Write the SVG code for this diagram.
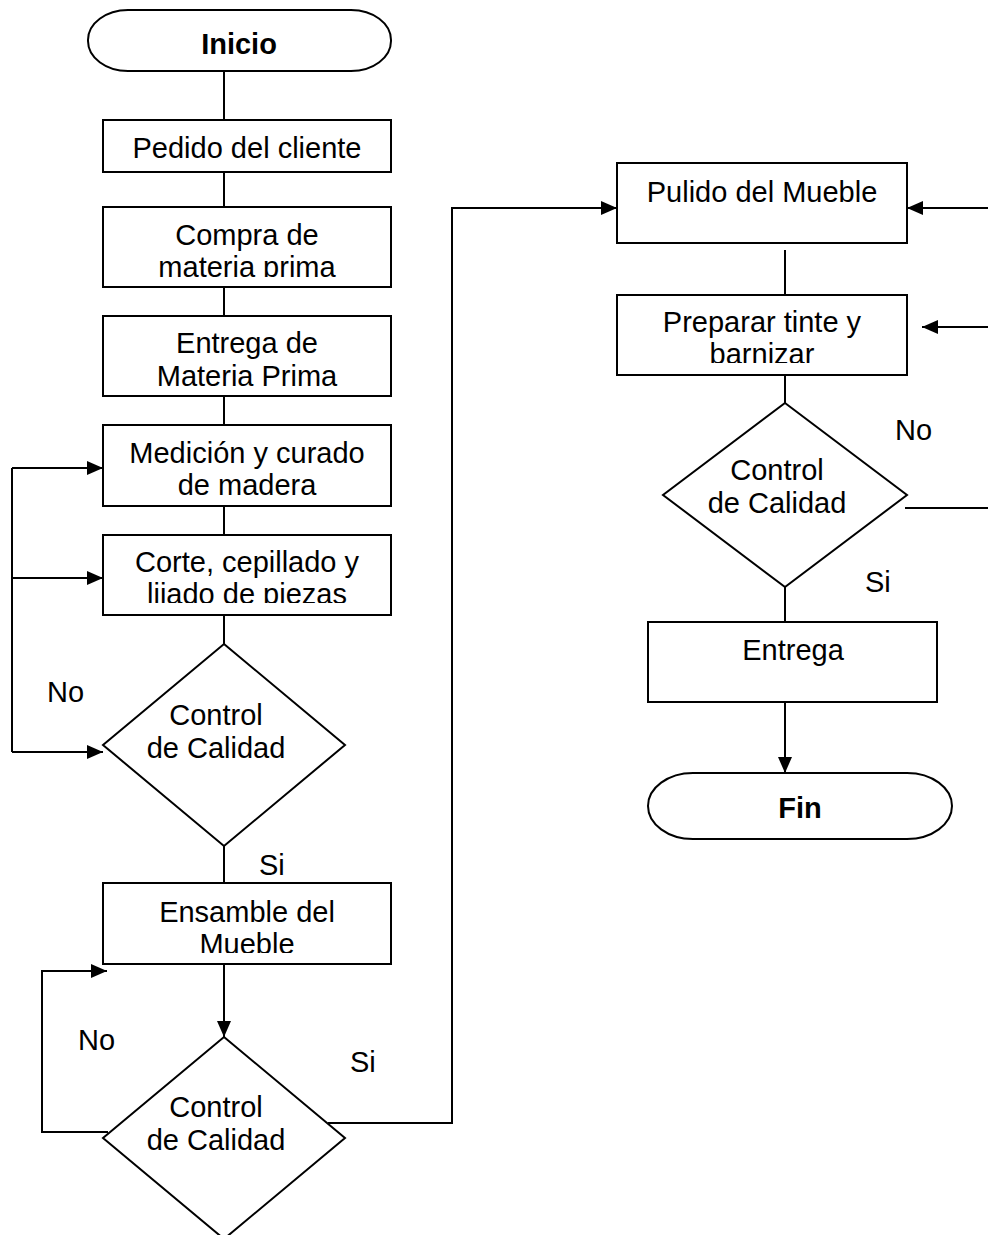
<svg xmlns="http://www.w3.org/2000/svg" width="988" height="1235" viewBox="0 0 988 1235">
<style>
.s{fill:#fff;stroke:#000;stroke-width:2}
.c{fill:none;stroke:#000;stroke-width:2}
text{font-family:"Liberation Sans",Arial,sans-serif;font-size:29px;fill:#000}
.m{text-anchor:middle}
.b{font-weight:bold}
</style>
<defs>
<marker id="ah" markerUnits="userSpaceOnUse" markerWidth="16" markerHeight="14" refX="16" refY="7" orient="auto"><path d="M0,0 L16,7 L0,14 Z" fill="#000"/></marker>
<clipPath id="k1"><rect x="103" y="207" width="288" height="70"/></clipPath>
<clipPath id="k2"><rect x="103" y="316" width="288" height="71"/></clipPath>
<clipPath id="k3"><rect x="103" y="425" width="288" height="70"/></clipPath>
<clipPath id="k4"><rect x="103" y="535" width="288" height="68"/></clipPath>
<clipPath id="k5"><rect x="103" y="883" width="288" height="70"/></clipPath>
<clipPath id="k6"><rect x="617" y="295" width="290" height="68"/></clipPath>
</defs>
<g id="connectors">
<path class="c" d="M224,71V120M224,172V207M224,287V316M224,396V425M224,506V535M224,615V644M224,846V883"/>
<path class="c" d="M12,468V752"/>
<path class="c" d="M12,468H103" marker-end="url(#ah)"/>
<path class="c" d="M12,578H103" marker-end="url(#ah)"/>
<path class="c" d="M12,752H103" marker-end="url(#ah)"/>
<path class="c" d="M224,964V1037" marker-end="url(#ah)"/>
<path class="c" d="M108,1132H42V971H107" marker-end="url(#ah)"/>
<path class="c" d="M328,1123H452V208H617" marker-end="url(#ah)"/>
<path class="c" d="M988,208H907" marker-end="url(#ah)"/>
<path class="c" d="M988,327H922" marker-end="url(#ah)"/>
<path class="c" d="M785,250V295M785,375V403M905,508H988M785,587V622"/>
<path class="c" d="M785,702V773" marker-end="url(#ah)"/>
<text x="47" y="702">No</text>
<text x="259" y="875">Si</text>
<text x="78" y="1050">No</text>
<text x="350" y="1072">Si</text>
<text x="895" y="440">No</text>
<text x="865" y="592">Si</text>
</g>
<g id="inicio"><rect class="s" x="88" y="10" width="303" height="61" rx="40" ry="30"/><text class="m b" x="239" y="54">Inicio</text></g>
<g id="pedido"><rect class="s" x="103" y="120" width="288" height="52"/><text class="m" x="247" y="158">Pedido del cliente</text></g>
<g id="compra"><rect class="s" x="103" y="207" width="288" height="80"/><g clip-path="url(#k1)"><text class="m" x="247" y="245">Compra de</text><text class="m" x="247" y="277">materia prima</text></g></g>
<g id="entrega-mp"><rect class="s" x="103" y="316" width="288" height="80"/><g clip-path="url(#k2)"><text class="m" x="247" y="353">Entrega de</text><text class="m" x="247" y="386">Materia Prima</text></g></g>
<g id="medicion"><rect class="s" x="103" y="425" width="288" height="81"/><g clip-path="url(#k3)"><text class="m" x="247" y="463">Medición y curado</text><text class="m" x="247" y="495">de madera</text></g></g>
<g id="corte"><rect class="s" x="103" y="535" width="288" height="80"/><g clip-path="url(#k4)"><text class="m" x="247" y="572">Corte, cepillado y</text><text class="m" x="247" y="604">lijado de piezas</text></g></g>
<g id="control1"><polygon class="s" points="224,644 345,745 224,846 103,745"/><text class="m" x="216" y="725">Control</text><text class="m" x="216" y="758">de Calidad</text></g>
<g id="ensamble"><rect class="s" x="103" y="883" width="288" height="81"/><g clip-path="url(#k5)"><text class="m" x="247" y="922">Ensamble del</text><text class="m" x="247" y="954">Mueble</text></g></g>
<g id="control2"><polygon class="s" points="224,1037 345,1138 224,1239 103,1138"/><text class="m" x="216" y="1117">Control</text><text class="m" x="216" y="1150">de Calidad</text></g>
<g id="pulido"><rect class="s" x="617" y="163" width="290" height="80"/><text class="m" x="762" y="202">Pulido del Mueble</text></g>
<g id="preparar"><rect class="s" x="617" y="295" width="290" height="80"/><g clip-path="url(#k6)"><text class="m" x="762" y="332">Preparar tinte y</text><text class="m" x="762" y="364">barnizar</text></g></g>
<g id="control3"><polygon class="s" points="785,403 907,495 785,587 663,495"/><text class="m" x="777" y="480">Control</text><text class="m" x="777" y="513">de Calidad</text></g>
<g id="entrega"><rect class="s" x="648" y="622" width="289" height="80"/><text class="m" x="793" y="660">Entrega</text></g>
<g id="fin"><rect class="s" x="648" y="773" width="304" height="66" rx="45" ry="33"/><text class="m b" x="800" y="818">Fin</text></g>
</svg>
